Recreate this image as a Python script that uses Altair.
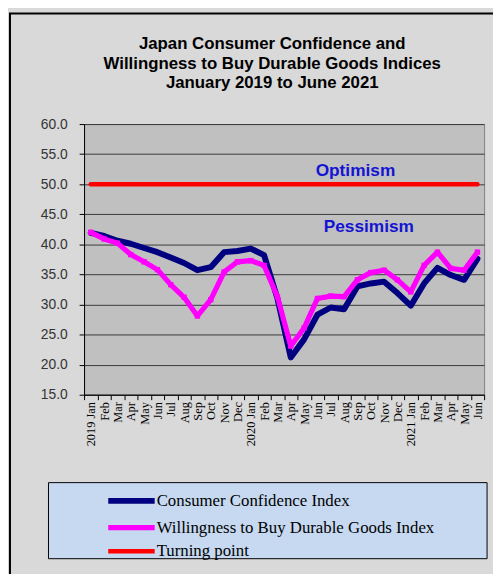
import altair as alt
import pandas as pd

months = ["2019 Jan", "Feb", "Mar", "Apr", "May", "Jun", "Jul", "Aug", "Sep", "Oct", "Nov", "Dec",
          "2020 Jan", "Feb", "Mar", "Apr", "May", "Jun", "Jul", "Aug", "Sep", "Oct", "Nov", "Dec",
          "2021 Jan", "Feb", "Mar", "Apr", "May", "Jun"]
cci = [41.9, 41.4, 40.6, 40.1, 39.4, 38.7, 37.8, 36.9, 35.7, 36.2, 38.7, 38.9,
       39.3, 38.2, 31.0, 21.2, 24.2, 28.3, 29.5, 29.2, 33.0, 33.5, 33.8, 31.9,
       29.8, 33.5, 36.1, 34.9, 34.1, 37.6]
wtb = [42.0, 40.9, 40.2, 38.3, 37.1, 35.8, 33.3, 31.2, 28.1, 30.8, 35.4, 37.1,
       37.3, 36.5, 31.3, 23.1, 26.1, 31.0, 31.4, 31.3, 34.1, 35.3, 35.7, 34.1,
       32.1, 36.5, 38.7, 36.0, 35.7, 38.7]
turning = [50.0, 50.0, 50.0, 50.0, 50.0, 50.0, 50.0, 50.0, 50.0, 50.0, 50.0, 50.0,
           50.0, 50.0, 50.0, 50.0, 50.0, 50.0, 50.0, 50.0, 50.0, 50.0, 50.0, 50.0,
           50.0, 50.0, 50.0, 50.0, 50.0, 50.0]
series_names = ["Consumer Confidence Index", "Willingness to Buy Durable Goods Index", "Turning point"]
series_colors = ["#000080", "#ff00ff", "#ff0000"]
y_ticks = [15, 20, 25, 30, 35, 40, 45, 50, 55, 60]
title_lines = ["Japan Consumer Confidence and",
               "Willingness to Buy Durable Goods Indices",
               "January 2019 to June 2021"]
note_labels = ["Optimism", "Pessimism"]
note_idx = [20, 21]
note_values = [52.2, 42.9]

rows = []
for name, vals in zip(series_names, [cci, wtb, turning]):
    for i, v in enumerate(vals):
        rows.append({"idx": i, "value": v, "series": name})
df = pd.DataFrame(rows)
notes = pd.DataFrame({"label": note_labels, "idx": note_idx, "value": note_values})

idx_domain = list(range(len(months)))
label_js = "[" + ",".join("'" + m + "'" for m in months) + "]"

x_enc = alt.X("idx:O",
              scale=alt.Scale(type="band", domain=idx_domain, paddingInner=0, paddingOuter=0),
              axis=alt.Axis(title=None, labelExpr=label_js + "[datum.value]", labelAngle=270,
                            labelAlign="right", labelBaseline="middle",
                            labelFont="Liberation Serif", labelFontSize=12.5, labelColor="black",
                            tickBand="extent", grid=False, domainColor="black", tickColor="black",
                            tickSize=5, labelPadding=2))
y_enc = alt.Y("value:Q",
              scale=alt.Scale(domain=[15, 60], nice=False, zero=False),
              axis=alt.Axis(title=None, values=y_ticks, format=".1f",
                            labelFont="Liberation Sans", labelFontSize=14, labelColor="#333333",
                            domainColor="black", tickColor="black", tickSize=5,
                            gridColor="#3a3a3a", gridWidth=1, labelPadding=12))

one = pd.DataFrame({"a": [0]})

legend_box = alt.Chart(one).mark_rect(fill="#c6d9f0", stroke="black", strokeWidth=1).encode(
    x=alt.value(-36), x2=alt.value(408), y=alt.value(363), y2=alt.value(440))
frame = alt.Chart(one).mark_rect(fill=None, stroke="black", strokeWidth=2).encode(
    x=alt.value(-75), x2=alt.value(420), y=alt.value(-112), y2=alt.value(460))

lines = alt.Chart(df).mark_line(strokeCap="round", strokeJoin="round").encode(
    x=x_enc, y=y_enc,
    color=alt.Color("series:N",
                    scale=alt.Scale(domain=series_names, range=series_colors),
                    legend=alt.Legend(orient="none", legendX=39.5, legendY=373, title=None,
                                      symbolType="M-4.7,0H4.7", symbolSize=100,
                                      symbolStrokeWidth=5, labelFont="Liberation Serif",
                                      labelFontSize=17, labelColor="black", labelOffset=17,
                                      labelLimit=400, rowPadding=4, padding=0)),
    strokeWidth=alt.StrokeWidth("series:N",
                                scale=alt.Scale(domain=series_names, range=[6, 4.5, 5]),
                                legend=None),
    order=alt.Order("idx:O"),
    detail="series:N")

pts = alt.Chart(df).transform_filter(
    alt.datum.series == series_names[1]).mark_point(
    shape="square", filled=True, size=30, color="#ff00ff", opacity=1).encode(x=x_enc, y=y_enc)

texts = alt.Chart(notes).mark_text(font="Liberation Sans", fontSize=17.5, fontWeight="bold",
                                   color="#1414d2", dx=-2).encode(
    x=x_enc, y=y_enc, text="label:N")

chart = alt.layer(legend_box, frame, lines, pts, texts).properties(
    width=405, height=274,
    background="#d9d9d9",
    padding={"left": 77, "top": 114, "right": 9, "bottom": 178},
    autosize=alt.AutoSizeParams(type="none"),
    title=alt.TitleParams(text=title_lines, font="Liberation Sans", fontSize=17,
                          fontWeight="bold", color="black", anchor="middle",
                          offset=-81, dx=-12, lineHeight=20),
).configure_view(fill="#c0c0c0", stroke="#808080", strokeWidth=1)

chart.save("out.html", embed_options={"renderer": "svg", "actions": False})
